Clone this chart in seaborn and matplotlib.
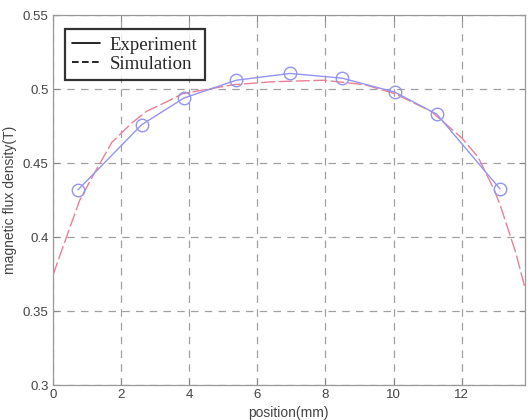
import matplotlib
matplotlib.use("Agg")
import matplotlib.pyplot as plt
from matplotlib.lines import Line2D
import seaborn as sns
import pandas as pd

# Experiment (blue, circles)
exp_x = [0.74, 2.61, 3.85, 5.38, 6.96, 8.49, 10.03, 11.27, 13.12]
exp_y = [0.432, 0.476, 0.494, 0.506, 0.5106, 0.5074, 0.498, 0.483, 0.4326]

# Simulation (red, dashed)
sim_x = [0.0, 0.4, 0.79, 1.19, 1.73, 2.31, 2.75, 3.3, 3.82, 4.32, 5.3, 6.47,
         7.94, 9.15, 10.03, 11.1, 12.0, 12.48, 12.97, 13.15, 13.59, 13.85]
sim_y = [0.374, 0.400, 0.425, 0.442, 0.464, 0.477, 0.485, 0.491, 0.497, 0.499,
         0.503, 0.505, 0.506, 0.503, 0.497, 0.485, 0.467, 0.454, 0.431, 0.420,
         0.389, 0.366]

x_ticks = [0, 2, 4, 6, 8, 10, 12]
y_ticks = [0.3, 0.35, 0.4, 0.45, 0.5, 0.55]
y_tick_labels = ["0.3", "0.35", "0.4", "0.45", "0.5", "0.55"]

sns.set_theme(style="white")
plt.rcParams["font.family"] = ["Liberation Sans", "DejaVu Sans"]

fig = plt.figure(figsize=(5.28, 4.2), dpi=100)
ax = fig.add_axes([0.100, 0.083, 0.894, 0.881])

df_exp = pd.DataFrame({"x": exp_x, "y": exp_y})
df_sim = pd.DataFrame({"x": sim_x, "y": sim_y})

sns.lineplot(data=df_sim, x="x", y="y", ax=ax, color="#ea8094", lw=1.0,
             linestyle=(0, (10, 2.5)), sort=False, zorder=3)
sns.lineplot(data=df_exp, x="x", y="y", ax=ax, color="#9494f2", lw=1.0,
             marker="o", markersize=9, markerfacecolor="none",
             markeredgecolor="#9494f2", markeredgewidth=1.0, sort=False, zorder=4)

ax.set_xlim(0, 13.85)
ax.set_ylim(0.3, 0.55)
ax.set_xticks(x_ticks)
ax.set_yticks(y_ticks)
ax.set_yticklabels(y_tick_labels)
ax.grid(True, color="#a0a0a0", linestyle=(0, (6, 5)), lw=0.9)
ax.tick_params(direction="in", length=4, width=0.8, colors="#888888",
               labelcolor="#444444", labelsize=9.5, top=True, right=True,
               bottom=True, left=True, pad=3)
for s in ax.spines.values():
    s.set_color("#999999")
    s.set_linewidth(0.9)

ax.set_xlabel("position(mm)", fontsize=10, color="#444444", labelpad=3.5)
ax.set_ylabel("magnetic flux density(T)", fontsize=10, color="#444444", labelpad=4)

handles = [Line2D([], [], color="black", lw=1.2, linestyle="-"),
           Line2D([], [], color="black", lw=1.2, linestyle=(0, (4, 2)))]
leg = ax.legend(handles, ["Experiment", "Simulation"], loc="upper left",
                bbox_to_anchor=(0.025, 0.962), frameon=True, fancybox=False,
                prop={"family": "Liberation Serif", "size": 13.5},
                handlelength=1.5, handletextpad=0.5, borderpad=0.4,
                labelspacing=0.1, borderaxespad=0.0)
leg.get_frame().set_edgecolor("black")
leg.get_frame().set_linewidth(1.6)

fig.savefig("out.png", dpi=100)
